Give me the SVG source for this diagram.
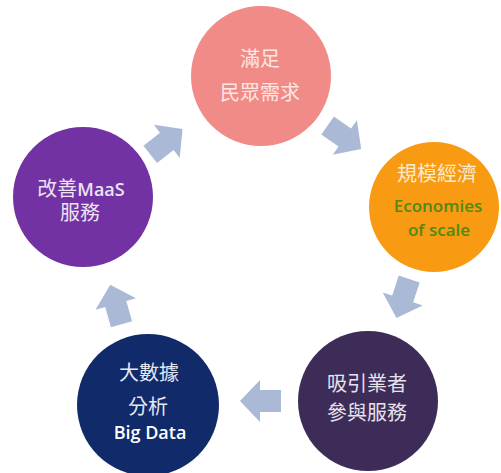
<svg xmlns="http://www.w3.org/2000/svg" xmlns:xlink="http://www.w3.org/1999/xlink" width="501" height="473" viewBox="0 0 501 473">
<defs>
<style>
.cjk{font-family:"Noto Sans CJK TC","Noto Sans CJK SC",sans-serif;font-size:20px;text-anchor:middle}
.lat{font-family:"Open Sans","Noto Sans CJK TC",sans-serif;font-weight:600;font-size:18px}
.eco{font-family:"Open Sans",sans-serif;font-weight:600;font-size:17px;text-anchor:middle;fill:#4e8a14}
.arrow{fill:#aabad6}
</style>
<polygon id="arr" points="-20,-11 1,-11 1,-21 21,0 1,21 1,11 -20,11"/>
</defs>
<rect width="501" height="473" fill="#ffffff"/>
<g id="connectors" class="arrow">
<use xlink:href="#arr" transform="translate(166,142) rotate(-38)"/>
<use xlink:href="#arr" transform="translate(344,137) rotate(35)"/>
<use xlink:href="#arr" transform="translate(403,298) rotate(108)"/>
<use xlink:href="#arr" transform="translate(261,401) rotate(180)"/>
<use xlink:href="#arr" transform="translate(116,305) rotate(-106)"/>
</g>
<g id="node-demand">
<circle cx="261" cy="76" r="70" fill="#f08b87"/>
<text class="cjk" x="260" y="66" fill="#fde6e4">滿足</text>
<text class="cjk" x="260" y="100" fill="#fde6e4">民眾需求</text>
</g>
<g id="node-scale">
<circle cx="434" cy="207" r="65" fill="#f89b12"/>
<text class="cjk" x="437" y="181" fill="#fdebd0">規模經濟</text>
<text class="eco" x="438" y="212">Economies</text>
<text class="eco" x="439" y="236">of scale</text>
</g>
<g id="node-operators">
<circle cx="368" cy="401" r="70" fill="#3e2c58"/>
<text class="cjk" x="367" y="391" fill="#e6e2ee">吸引業者</text>
<text class="cjk" x="367" y="420" fill="#e6e2ee">參與服務</text>
</g>
<g id="node-bigdata">
<circle cx="148" cy="405" r="71" fill="#112a6a"/>
<text class="cjk" x="149" y="380" fill="#e4e8f2">大數據</text>
<text class="cjk" x="148" y="414" fill="#e4e8f2">分析</text>
<text class="lat" x="150" y="439" fill="#ffffff" text-anchor="middle">Big Data</text>
</g>
<g id="node-maas">
<circle cx="83" cy="197" r="70" fill="#7232a3"/>
<text class="cjk" x="81" y="196" fill="#ece2f4">改善<tspan class="lat">MaaS</tspan></text>
<text class="cjk" x="80" y="220" fill="#ece2f4">服務</text>
</g>
</svg>
